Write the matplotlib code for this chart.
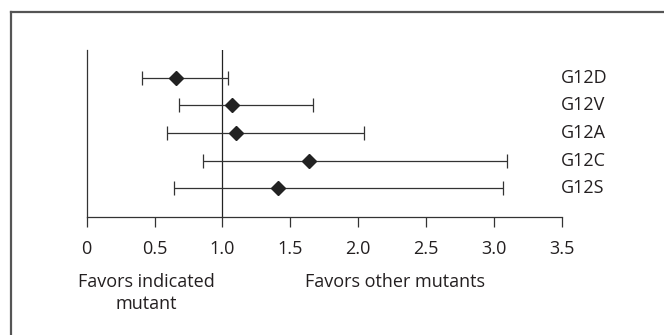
import matplotlib.pyplot as plt
import matplotlib.lines as mlines

# Odds ratios with 95% CI per mutant
mutants = ['G12D', 'G12V', 'G12A', 'G12C', 'G12S']
odds = [0.66, 1.07, 1.10, 1.64, 1.41]
ci_low = [0.41, 0.68, 0.59, 0.86, 0.64]
ci_high = [1.04, 1.67, 2.04, 3.10, 3.07]
xticks = [0, 0.5, 1.0, 1.5, 2.0, 2.5, 3.0, 3.5]
xtick_labels = ['0', '0.5', '1.0', '1.5', '2.0', '2.5', '3.0', '3.5']

plt.rcParams['font.family'] = ['Open Sans', 'DejaVu Sans']
txt = '#231f20'

fig = plt.figure(figsize=(6.64, 3.35), dpi=100)
ax = fig.add_axes([0.1306, 0.3513, 0.7154, 0.4994])

ypos = list(range(1, len(mutants) + 1))
err = [[o - l for o, l in zip(odds, ci_low)], [h - o for o, h in zip(odds, ci_high)]]
ax.errorbar(odds, ypos, xerr=err, fmt='D', color='#222222', ecolor='#333333',
            elinewidth=0.9, capsize=5, capthick=0.9, markersize=7, zorder=3)

# reference line at OR = 1
ax.axvline(1.0, color='#222222', lw=0.9, zorder=1)

for y, m in zip(ypos, mutants):
    ax.text(3.49, y, m, ha='left', va='center', fontsize=13, color=txt, clip_on=False)

ax.set_xlim(0, 3.5)
ax.set_ylim(6.05, 0)
ax.set_xticks(xticks)
ax.set_xticklabels(xtick_labels, fontsize=13, color=txt)
ax.set_yticks([])
ax.tick_params(axis='x', direction='out', length=7, width=0.9, color='#333333', pad=9)
for s in ['top', 'right']:
    ax.spines[s].set_visible(False)
for s in ['left', 'bottom']:
    ax.spines[s].set_color('#333333')
    ax.spines[s].set_linewidth(0.9)

ax.text(0.44, -0.33, 'Favors indicated\nmutant', transform=ax.get_xaxis_transform(),
        ha='center', va='top', fontsize=13, color=txt, linespacing=1.35)
ax.text(2.27, -0.33, 'Favors other mutants', transform=ax.get_xaxis_transform(),
        ha='center', va='top', fontsize=13, color=txt)

# partial outer frame (top and left edges)
fig.add_artist(mlines.Line2D([11 / 664, 11 / 664], [0, 1 - 11.5 / 335], color='#555555', lw=1.6))
fig.add_artist(mlines.Line2D([11 / 664, 1], [1 - 11.5 / 335, 1 - 11.5 / 335], color='#555555', lw=1.6))

fig.savefig('out.png', dpi=100)
